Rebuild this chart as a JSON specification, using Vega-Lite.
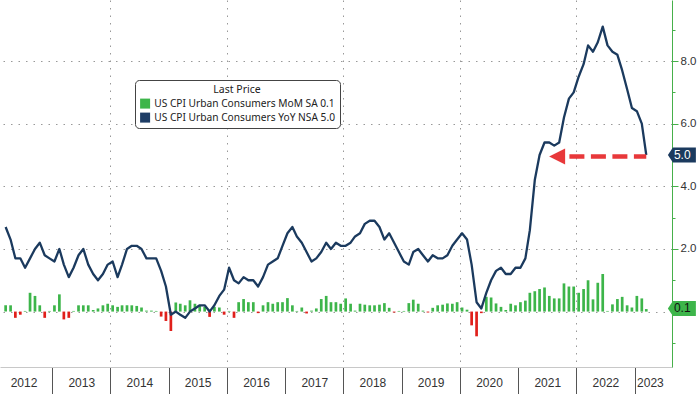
{
  "$schema": "https://vega.github.io/schema/vega-lite/v6.json",
  "width": 672,
  "height": 367,
  "autosize": {"type": "none"},
  "padding": {"left": 0, "top": 0, "right": 28, "bottom": 27},
  "background": "white",
  "config": {"view": {"stroke": null}, "font": "Liberation Sans"},
  "datasets": {
    "cpi": [
      {"d":"2012-03-15","yoy":2.7,"mom":0.2},{"d":"2012-04-15","yoy":2.3,"mom":0.2},{"d":"2012-05-15","yoy":1.7,"mom":-0.2},{"d":"2012-06-15","yoy":1.7,"mom":-0.1},{"d":"2012-07-15","yoy":1.4,"mom":0.02},{"d":"2012-08-15","yoy":1.7,"mom":0.6},{"d":"2012-09-15","yoy":2.0,"mom":0.5},{"d":"2012-10-15","yoy":2.2,"mom":0.2},{"d":"2012-11-15","yoy":1.8,"mom":-0.2},{"d":"2012-12-15","yoy":1.7,"mom":0.02},
      {"d":"2013-01-15","yoy":1.6,"mom":0.2},{"d":"2013-02-15","yoy":2.0,"mom":0.55},{"d":"2013-03-15","yoy":1.5,"mom":-0.25},{"d":"2013-04-15","yoy":1.1,"mom":-0.2},{"d":"2013-05-15","yoy":1.4,"mom":0.02},{"d":"2013-06-15","yoy":1.8,"mom":0.2},{"d":"2013-07-15","yoy":2.0,"mom":0.2},{"d":"2013-08-15","yoy":1.5,"mom":0.2},{"d":"2013-09-15","yoy":1.2,"mom":0.05},{"d":"2013-10-15","yoy":1.0,"mom":0.1},{"d":"2013-11-15","yoy":1.2,"mom":0.2},{"d":"2013-12-15","yoy":1.5,"mom":0.25},
      {"d":"2014-01-15","yoy":1.6,"mom":0.2},{"d":"2014-02-15","yoy":1.1,"mom":0.15},{"d":"2014-03-15","yoy":1.5,"mom":0.2},{"d":"2014-04-15","yoy":2.0,"mom":0.2},{"d":"2014-05-15","yoy":2.1,"mom":0.2},{"d":"2014-06-15","yoy":2.1,"mom":0.18},{"d":"2014-07-15","yoy":2.0,"mom":0.13},{"d":"2014-08-15","yoy":1.7,"mom":0.03},{"d":"2014-09-15","yoy":1.7,"mom":0.03},{"d":"2014-10-15","yoy":1.7,"mom":0.02},{"d":"2014-11-15","yoy":1.3,"mom":-0.16},{"d":"2014-12-15","yoy":0.8,"mom":-0.3},
      {"d":"2015-01-15","yoy":-0.1,"mom":-0.62},{"d":"2015-02-15","yoy":0.0,"mom":0.29},{"d":"2015-03-15","yoy":-0.1,"mom":0.25},{"d":"2015-04-15","yoy":-0.2,"mom":0.2},{"d":"2015-05-15","yoy":0.0,"mom":0.36},{"d":"2015-06-15","yoy":0.1,"mom":0.25},{"d":"2015-07-15","yoy":0.2,"mom":0.2},{"d":"2015-08-15","yoy":0.2,"mom":0.15},{"d":"2015-09-15","yoy":0.0,"mom":-0.17},{"d":"2015-10-15","yoy":0.2,"mom":0.15},{"d":"2015-11-15","yoy":0.5,"mom":0.13},{"d":"2015-12-15","yoy":0.7,"mom":-0.1},
      {"d":"2016-01-15","yoy":1.4,"mom":0.02},{"d":"2016-02-15","yoy":1.0,"mom":-0.2},{"d":"2016-03-15","yoy":0.9,"mom":0.3},{"d":"2016-04-15","yoy":1.1,"mom":0.4},{"d":"2016-05-15","yoy":1.0,"mom":0.3},{"d":"2016-06-15","yoy":1.0,"mom":0.3},{"d":"2016-07-15","yoy":0.8,"mom":-0.05},{"d":"2016-08-15","yoy":1.1,"mom":0.2},{"d":"2016-09-15","yoy":1.5,"mom":0.3},{"d":"2016-10-15","yoy":1.6,"mom":0.25},{"d":"2016-11-15","yoy":1.7,"mom":0.3},{"d":"2016-12-15","yoy":2.1,"mom":0.3},
      {"d":"2017-01-15","yoy":2.5,"mom":0.43},{"d":"2017-02-15","yoy":2.7,"mom":0.2},{"d":"2017-03-15","yoy":2.4,"mom":0.02},{"d":"2017-04-15","yoy":2.2,"mom":0.13},{"d":"2017-05-15","yoy":1.9,"mom":-0.06},{"d":"2017-06-15","yoy":1.6,"mom":0.03},{"d":"2017-07-15","yoy":1.7,"mom":0.1},{"d":"2017-08-15","yoy":1.9,"mom":0.4},{"d":"2017-09-15","yoy":2.2,"mom":0.5},{"d":"2017-10-15","yoy":2.0,"mom":0.3},{"d":"2017-11-15","yoy":2.2,"mom":0.3},{"d":"2017-12-15","yoy":2.1,"mom":0.25},
      {"d":"2018-01-15","yoy":2.1,"mom":0.42},{"d":"2018-02-15","yoy":2.2,"mom":0.25},{"d":"2018-03-15","yoy":2.4,"mom":0.03},{"d":"2018-04-15","yoy":2.5,"mom":0.25},{"d":"2018-05-15","yoy":2.8,"mom":0.22},{"d":"2018-06-15","yoy":2.9,"mom":0.2},{"d":"2018-07-15","yoy":2.9,"mom":0.2},{"d":"2018-08-15","yoy":2.7,"mom":0.22},{"d":"2018-09-15","yoy":2.3,"mom":0.27},{"d":"2018-10-15","yoy":2.5,"mom":0.12},{"d":"2018-11-15","yoy":2.2,"mom":-0.03},{"d":"2018-12-15","yoy":1.9,"mom":0.02},
      {"d":"2019-01-15","yoy":1.6,"mom":0.02},{"d":"2019-02-15","yoy":1.5,"mom":0.27},{"d":"2019-03-15","yoy":1.9,"mom":0.38},{"d":"2019-04-15","yoy":2.0,"mom":0.25},{"d":"2019-05-15","yoy":1.8,"mom":0.03},{"d":"2019-06-15","yoy":1.6,"mom":-0.03},{"d":"2019-07-15","yoy":1.8,"mom":0.12},{"d":"2019-08-15","yoy":1.7,"mom":0.2},{"d":"2019-09-15","yoy":1.7,"mom":0.22},{"d":"2019-10-15","yoy":1.8,"mom":0.26},{"d":"2019-11-15","yoy":2.1,"mom":0.25},{"d":"2019-12-15","yoy":2.3,"mom":0.3},
      {"d":"2020-01-15","yoy":2.5,"mom":0.13},{"d":"2020-02-15","yoy":2.3,"mom":0.06},{"d":"2020-03-15","yoy":1.5,"mom":-0.44},{"d":"2020-04-15","yoy":0.3,"mom":-0.79},{"d":"2020-05-15","yoy":0.1,"mom":-0.05},{"d":"2020-06-15","yoy":0.6,"mom":0.47},{"d":"2020-07-15","yoy":1.0,"mom":0.45},{"d":"2020-08-15","yoy":1.3,"mom":0.26},{"d":"2020-09-15","yoy":1.4,"mom":0.15},{"d":"2020-10-15","yoy":1.2,"mom":0.05},{"d":"2020-11-15","yoy":1.2,"mom":0.25},{"d":"2020-12-15","yoy":1.4,"mom":0.2},
      {"d":"2021-01-15","yoy":1.4,"mom":0.3},{"d":"2021-02-15","yoy":1.7,"mom":0.35},{"d":"2021-03-15","yoy":2.6,"mom":0.6},{"d":"2021-04-15","yoy":4.2,"mom":0.65},{"d":"2021-05-15","yoy":5.0,"mom":0.72},{"d":"2021-06-15","yoy":5.4,"mom":0.77},{"d":"2021-07-15","yoy":5.4,"mom":0.5},{"d":"2021-08-15","yoy":5.3,"mom":0.42},{"d":"2021-09-15","yoy":5.4,"mom":0.42},{"d":"2021-10-15","yoy":6.2,"mom":0.9},{"d":"2021-11-15","yoy":6.8,"mom":0.8},{"d":"2021-12-15","yoy":7.0,"mom":0.8},
      {"d":"2022-01-15","yoy":7.5,"mom":0.6},{"d":"2022-02-15","yoy":7.9,"mom":0.72},{"d":"2022-03-15","yoy":8.5,"mom":1.0},{"d":"2022-04-15","yoy":8.3,"mom":0.39},{"d":"2022-05-15","yoy":8.6,"mom":0.92},{"d":"2022-06-15","yoy":9.1,"mom":1.2},{"d":"2022-07-15","yoy":8.5,"mom":0.02},{"d":"2022-08-15","yoy":8.3,"mom":0.23},{"d":"2022-09-15","yoy":8.2,"mom":0.4},{"d":"2022-10-15","yoy":7.7,"mom":0.47},{"d":"2022-11-15","yoy":7.1,"mom":0.2},{"d":"2022-12-15","yoy":6.5,"mom":0.13},
      {"d":"2023-01-15","yoy":6.4,"mom":0.5},{"d":"2023-02-15","yoy":6.0,"mom":0.42},{"d":"2023-03-15","yoy":5.0,"mom":0.08}
    ],
    "tags": [
      {"d":"2023-03-15","v":5.0,"label":"5.0","s":"yoy"},
      {"d":"2023-03-15","v":0.1,"label":"0.1","s":"mom"}
    ],
    "arrow": [
      {"tip":"2021-09-02","start":"2021-11-18","end":"2023-03-15","v":4.95}
    ]
  },
  "resolve": {"axis": {"x": "independent", "y": "independent"}},
  "layer": [
    {
      "data": {"name": "cpi"},
      "mark": {"type": "bar", "width": 2.7},
      "encoding": {
        "x": {
          "field": "d", "type": "temporal",
          "scale": {"type": "utc", "domain": [{"year": 2012, "month": 3, "date": 11, "utc": true}, {"year": 2023, "month": 7, "date": 23, "utc": true}]},
          "axis": {
            "orient": "bottom", "title": null, "labels": false,
            "values": [{"year":2013,"utc":true},{"year":2014,"utc":true},{"year":2015,"utc":true},{"year":2016,"utc":true},{"year":2017,"utc":true},{"year":2018,"utc":true},{"year":2019,"utc":true},{"year":2020,"utc":true},{"year":2021,"utc":true},{"year":2022,"utc":true},{"year":2023,"utc":true}],
            "tickSize": 27, "tickColor": "#555", "tickWidth": 1,
            "domainColor": "#c8c8c8",
            "grid": true, "gridColor": "#999", "gridDash": [1.5, 6],
            "gridOpacity": {"condition": {"test": "utcyear(datum.value) % 2 === 0", "value": 1}, "value": 0}
          }
        },
        "y": {
          "field": "mom", "type": "quantitative",
          "scale": {"domain": [-1.77, 9.95], "nice": false, "zero": false},
          "axis": {
            "orient": "right", "title": null,
            "values": [0, 2, 4, 6, 8],
            "labelExpr": "datum.value > 0 ? format(datum.value, '.1f') : ''",
            "tickSize": 6,
            "tickColor": "#46b04a", "domainColor": "#46b04a",
            "labelColor": "#333", "labelFontSize": 11.5, "labelPadding": 2,
            "grid": true, "gridColor": "#999", "gridDash": [1.5, 6]
          }
        },
        "y2": {"datum": 0},
        "color": {
          "datum": "US CPI Urban Consumers MoM SA 0.1",
          "type": "nominal",
          "condition": {"test": "datum.mom < 0", "value": "#e0201b"},
          "scale": {"domain": ["US CPI Urban Consumers MoM SA 0.1", "US CPI Urban Consumers YoY NSA 5.0"], "range": ["#3db54a", "#1e3d66"]},
          "legend": {
            "title": "Last Price", "orient": "none", "legendX": 135, "legendY": 80,
            "symbolType": "square", "symbolSize": 100, "symbolStrokeWidth": 0,
            "labelFont": "Noto Sans", "labelFontSize": 10.2, "labelColor": "#222", "labelLimit": 300,
            "titleFont": "Noto Sans", "titleFontSize": 10.5, "titleFontWeight": "normal", "titleColor": "#222", "titleAnchor": "middle",
            "strokeColor": "#444", "fillColor": "white", "cornerRadius": 4, "padding": 5, "rowPadding": 3, "titlePadding": 3
          }
        }
      }
    },
    {
      "data": {"name": "cpi"},
      "mark": {"type": "line", "color": "#1b3a5e", "strokeWidth": 2.3, "strokeJoin": "round"},
      "encoding": {
        "x": {
          "field": "d", "type": "temporal",
          "axis": {
            "orient": "bottom", "title": null, "ticks": false, "domain": false, "grid": false,
            "values": [{"year":2012,"month":7,"date":5,"utc":true},{"year":2013,"month":7,"date":2,"utc":true},{"year":2014,"month":7,"date":2,"utc":true},{"year":2015,"month":7,"date":2,"utc":true},{"year":2016,"month":7,"date":2,"utc":true},{"year":2017,"month":7,"date":2,"utc":true},{"year":2018,"month":7,"date":2,"utc":true},{"year":2019,"month":7,"date":2,"utc":true},{"year":2020,"month":7,"date":2,"utc":true},{"year":2021,"month":7,"date":2,"utc":true},{"year":2022,"month":7,"date":2,"utc":true},{"year":2023,"month":4,"date":7,"utc":true}],
            "labelExpr": "utcFormat(datum.value, '%Y')",
            "labelPadding": 10, "labelFontSize": 12, "labelColor": "#333",
            "labelFlush": false, "labelOverlap": false
          }
        },
        "y": {
          "field": "yoy", "type": "quantitative",
          "axis": {
            "orient": "right", "title": null, "values": [-1, 1, 3, 5, 7, 9],
            "labels": false, "domain": false, "grid": false,
            "tickSize": 3, "tickColor": "#46b04a"
          }
        }
      }
    },
    {
      "data": {"name": "arrow"},
      "mark": {"type": "rule", "color": "#e8383a", "strokeWidth": 4.5, "strokeDash": [15, 6.5]},
      "encoding": {
        "x": {"field": "start", "type": "temporal", "axis": null},
        "x2": {"field": "end"},
        "y": {"field": "v", "type": "quantitative", "axis": null}
      }
    },
    {
      "data": {"name": "arrow"},
      "mark": {"type": "point", "shape": "M-1,0L1,-1L1,1Z", "size": 256, "filled": true, "color": "#e8383a", "opacity": 1, "strokeWidth": 0},
      "encoding": {
        "x": {"field": "tip", "type": "temporal", "axis": null},
        "y": {"field": "v", "type": "quantitative", "axis": null}
      }
    },
    {
      "data": {"name": "tags"},
      "mark": {"type": "point", "shape": "M-1,0L-0.64,-0.536L1,-0.536L1,0.536L-0.64,0.536Z", "size": 784, "filled": true, "opacity": 1, "strokeWidth": 0, "xOffset": 35.6},
      "encoding": {
        "x": {"field": "d", "type": "temporal", "axis": null},
        "y": {"field": "v", "type": "quantitative", "axis": null},
        "fill": {"condition": {"test": "datum.s === 'yoy'", "value": "#1b3a5e"}, "value": "#3db54a"}
      }
    },
    {
      "data": {"name": "tags"},
      "mark": {"type": "text", "fontSize": 12, "align": "center", "baseline": "middle", "xOffset": 36},
      "encoding": {
        "x": {"field": "d", "type": "temporal", "axis": null},
        "y": {"field": "v", "type": "quantitative", "axis": null},
        "text": {"field": "label"},
        "fill": {"condition": {"test": "datum.s === 'yoy'", "value": "#ffffff"}, "value": "#111111"}
      }
    }
  ]
}
